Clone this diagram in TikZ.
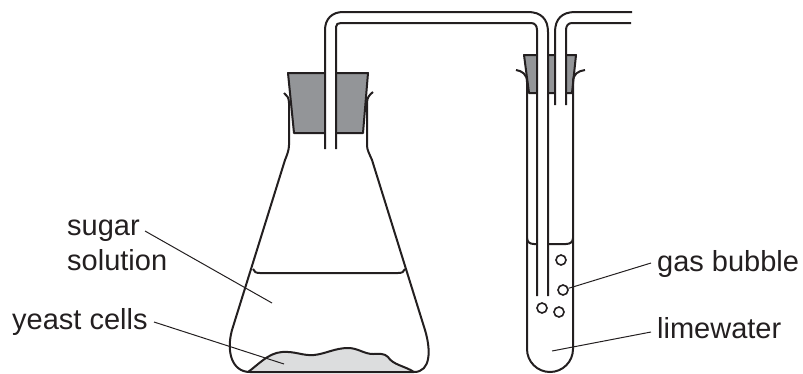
\documentclass[tikz,border=0pt]{standalone}
\usepackage{xcolor}
\usepackage{fontspec}
\setmainfont{Liberation Sans}
\usepackage{tikz}
\usetikzlibrary{positioning}
\definecolor{bungGrey}{HTML}{939598}
\definecolor{yeastGrey}{HTML}{DCDDDE}
\definecolor{inkDark}{HTML}{231F20}
\tikzset{
  glass/.style={draw=inkDark, line width=2pt, line join=round},
  leader/.style={draw=inkDark, line width=1pt},
  lbl/.style={text=inkDark, font=\fontsize{29}{35}\selectfont, inner sep=0pt, align=left, anchor=base west},
  bubble/.style={circle, draw=inkDark, line width=1.6pt, minimum size=10pt, inner sep=0pt}
}
\begin{document}
\begin{tikzpicture}[x=1pt, y=-1pt]
\useasboundingbox (0,0) rectangle (803,373);
% yeast and stoppers
\fill[yeastGrey] (248,372) .. controls (258,365) and (268,353) .. (282,352) .. controls (295,351) and (303,356) .. (314,355) .. controls (325,354) and (335,348) .. (348,348) .. controls (358,348) and (364,354) .. (373,354) .. controls (380,354) and (384,353) .. (388,357) .. controls (393,365) and (405,366) .. (414,372) -- cycle;
\draw[glass] (248,372) .. controls (258,365) and (268,353) .. (282,352) .. controls (295,351) and (303,356) .. (314,355) .. controls (325,354) and (335,348) .. (348,348) .. controls (358,348) and (364,354) .. (373,354) .. controls (380,354) and (384,353) .. (388,357) .. controls (393,365) and (405,366) .. (414,372);
\draw[glass, fill=bungGrey] (288,73) -- (368,73) -- (363,133) -- (294,133) -- cycle;
\draw[glass, fill=bungGrey] (524,55) -- (576,55) -- (572,93) -- (529,93) -- cycle;
% flask
\draw[glass] (284,93) .. controls (287,95) and (289,98) .. (289,103) -- (289,145) .. controls (289,150) and (287,155) .. (285,160) -- (232,330) .. controls (226,352) and (232,372) .. (250,372) -- (414,372) .. controls (431,372) and (431,350) .. (425,330) -- (372,160) .. controls (369,153) and (367,150) .. (367,145) -- (367,103) .. controls (367,98) and (369,95) .. (373,92);
\draw[glass] (253,269) .. controls (254,272) and (256,273) .. (260,273) -- (398,273) .. controls (402,273) and (404,272) .. (405,269);
% test tube
\draw[glass] (516,70) .. controls (522,71) and (527,74) .. (527,82) -- (527,349) arc[start angle=180, end angle=0, x radius=23, y radius=23] -- (573,82) .. controls (573,74) and (578,71) .. (585,70);
\draw[glass] (527,238) .. controls (527,242) and (530,244) .. (534,244) -- (537,244);
\draw[glass] (548,244) -- (566,244) .. controls (570,244) and (573,242) .. (573,238);
% delivery tubes
\fill[white] (326,60) rectangle (335,149);
\fill[white] (538,50) rectangle (547,296);
\fill[white] (556,50) rectangle (565,105);
\draw[glass] (325,149) -- (325,30) .. controls (325,19) and (332,12) .. (343,12) -- (528,12) .. controls (541,12) and (548,19) .. (548,32) -- (548,296);
\draw[glass] (336,149) -- (336,27) .. controls (336,24) and (338,23) .. (341,23) -- (531,23) .. controls (535,23) and (537,26) .. (537,30) -- (537,296);
\draw[glass] (555,105) -- (555,32) .. controls (555,19) and (562,12) .. (575,12) -- (632,12);
\draw[glass] (566,105) -- (566,30) .. controls (566,26) and (568,23) .. (572,23) -- (631,23);
% bubbles
\foreach \n/\x/\y in {a/561/260, b/563/290, c/542/308, d/559/312} {\node[bubble] (bub\n) at (\x,\y) {};}
% labels
\node[lbl] (sugar) at (67,270) {sugar\\solution};
\node[lbl] (yeast) at (12,329) {yeast cells};
\node[lbl] (gas) at (657,271) {gas bubble};
\node[lbl] (lime) at (657,338) {limewater};
\coordinate (sugarTip) at (272,303);
\coordinate (yeastTip) at (284,364);
\coordinate (limeTip) at (552,351);
\coordinate (sugarEnd) at (145,231);
\coordinate (yeastEnd) at (154,322);
\coordinate (gasEnd) at (651,263);
\coordinate (limeEnd) at (651,332);
\draw[leader] (sugarEnd) -- (sugarTip);
\draw[leader] (yeastEnd) -- (yeastTip);
\draw[leader] (gasEnd) -- (bubb);
\draw[leader] (limeEnd) -- (limeTip);
\end{tikzpicture}
\end{document}
